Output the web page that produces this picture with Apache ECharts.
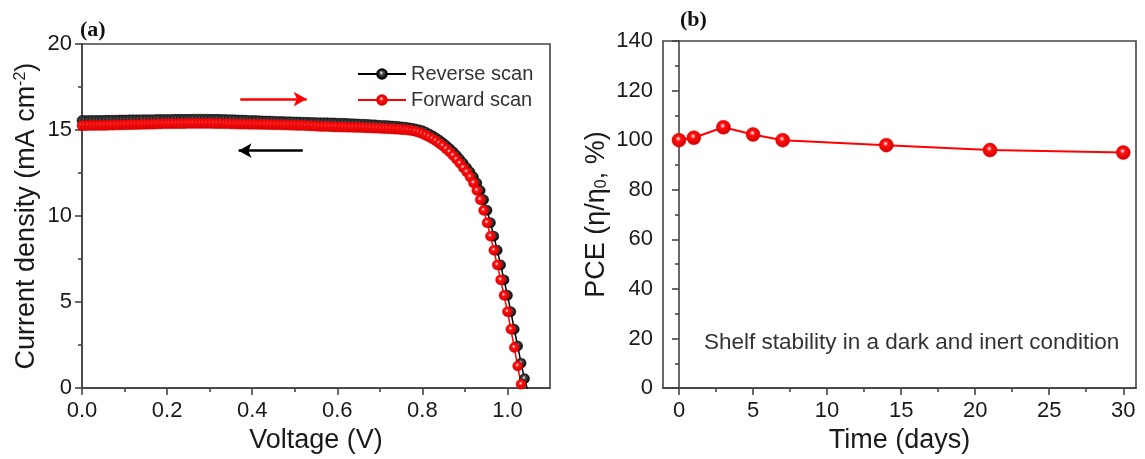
<!DOCTYPE html>
<html><head><meta charset="utf-8">
<script src="https://cdn.jsdelivr.net/npm/echarts@6/dist/echarts.min.js"></script>
<style>html,body{margin:0;padding:0;background:#fff}#c{width:1145px;height:459px}</style>
</head><body><div id="c"></div>
<script>
// ---- Panel (a): J-V data ----
const voltage = [
0,0.008,0.016,0.024,0.032,0.04,0.048,0.056,0.064,0.072,
0.08,0.088,0.096,0.104,0.112,0.12,0.128,0.136,0.144,0.152,
0.16,0.168,0.176,0.184,0.192,0.2,0.208,0.216,0.224,0.232,
0.24,0.248,0.256,0.264,0.272,0.28,0.288,0.296,0.304,0.312,
0.32,0.328,0.336,0.344,0.352,0.36,0.368,0.376,0.384,0.392,
0.4,0.408,0.416,0.424,0.432,0.44,0.448,0.456,0.464,0.472,
0.48,0.488,0.496,0.504,0.512,0.52,0.528,0.536,0.544,0.552,
0.56,0.568,0.576,0.584,0.592,0.6,0.608,0.616,0.624,0.632,
0.64,0.648,0.656,0.664,0.672,0.68,0.688,0.696,0.704,0.712,
0.72,0.728,0.736,0.744,0.752,0.76,0.768,0.776,0.784,0.792,
0.8,0.808,0.816,0.824,0.832,0.84,0.848,0.856,0.864,0.872,
0.88,0.888,0.896,0.904,0.912,0.92,0.928,0.936,0.944,0.952,
0.96,0.968,0.976,0.984,0.992,1.0,1.008,1.016,1.024,1.032,
1.04,1.048];
const reverseJ = [
15.55,15.55,15.55,15.56,15.56,15.56,15.56,15.57,15.57,15.57,
15.57,15.58,15.58,15.58,15.59,15.59,15.59,15.59,15.60,15.60,
15.60,15.60,15.61,15.61,15.61,15.61,15.61,15.62,15.62,15.62,
15.62,15.62,15.62,15.63,15.63,15.63,15.63,15.63,15.62,15.62,
15.62,15.61,15.61,15.60,15.60,15.59,15.58,15.58,15.57,15.56,
15.55,15.55,15.54,15.53,15.52,15.52,15.51,15.50,15.50,15.49,
15.48,15.48,15.47,15.47,15.46,15.45,15.45,15.44,15.44,15.43,
15.43,15.42,15.42,15.41,15.41,15.40,15.39,15.39,15.38,15.37,
15.36,15.35,15.34,15.33,15.32,15.31,15.30,15.28,15.27,15.26,
15.25,15.23,15.22,15.20,15.18,15.16,15.13,15.10,15.06,15.01,
14.96,14.87,14.77,14.66,14.54,14.41,14.26,14.10,13.92,13.74,
13.53,13.30,13.07,12.81,12.56,12.27,11.92,11.48,10.95,10.33,
9.61,8.83,8.01,7.16,6.29,5.39,4.44,3.42,2.45,1.45,
0.55,-0.15];
const forwardJ = [
15.25,15.25,15.26,15.26,15.26,15.27,15.27,15.27,15.28,15.28,
15.29,15.29,15.30,15.30,15.31,15.31,15.32,15.32,15.33,15.33,
15.34,15.34,15.35,15.35,15.36,15.36,15.36,15.37,15.37,15.37,
15.37,15.38,15.38,15.38,15.38,15.38,15.38,15.38,15.38,15.37,
15.37,15.37,15.36,15.36,15.35,15.35,15.34,15.34,15.34,15.33,
15.33,15.33,15.32,15.32,15.32,15.31,15.31,15.30,15.30,15.29,
15.29,15.28,15.28,15.27,15.27,15.26,15.25,15.24,15.23,15.22,
15.21,15.20,15.20,15.19,15.18,15.18,15.17,15.17,15.16,15.16,
15.15,15.15,15.14,15.13,15.12,15.12,15.11,15.10,15.09,15.08,
15.07,15.06,15.05,15.04,15.02,15.01,14.99,14.96,14.92,14.86,
14.78,14.69,14.59,14.48,14.36,14.22,14.07,13.90,13.72,13.52,
13.30,13.07,12.81,12.56,12.27,11.92,11.48,10.95,10.33,9.61,
8.83,8.01,7.16,6.29,5.39,4.44,3.42,2.36,1.28,0.22];
const voltageTicks = [0, 0.2, 0.4, 0.6, 0.8, 1.0];
const voltageMinorTicks = [0.1, 0.3, 0.5, 0.7, 0.9];
const forwardArrow = [[0.372, 16.8], [0.528, 16.8]];
const reverseArrow = [[0.519, 13.8], [0.368, 13.8]];

// ---- Panel (b): stability data ----
const days = [0, 1, 3, 5, 7, 14, 21, 30];
const pce = [100, 101, 105.2, 102.3, 100, 98, 96, 95];
const dayTicks = [0, 5, 10, 15, 20, 25, 30];
const dayMinorTicks = [2.5, 7.5, 12.5, 17.5, 22.5, 27.5];

const FONT = '"Liberation Sans", Arial, sans-serif';
const AX = '#444';
const TXT = '#1a1a1a';

function ball(mid, edge) {
  return new echarts.graphic.RadialGradient(0.45, 0.4, 0.6, [
    {offset: 0, color: '#ffffff'}, {offset: 0.3, color: mid}, {offset: 1, color: edge}]);
}
const axisLine = {lineStyle: {color: AX, width: 1.6}};
const tickStyle = {color: AX, width: 1.6};
const labelStyle = {fontSize: 22, color: TXT, fontFamily: FONT};
const nameStyle = {fontSize: 27, color: TXT, fontFamily: FONT};

function minorAxis(grid, min, max, vals, isX) {
  const a = {
    gridIndex: grid, type: 'value', min: min, max: max,
    axisLine: {show: false}, axisLabel: {show: false}, splitLine: {show: false},
    axisTick: {show: true, customValues: vals, length: 4, lineStyle: tickStyle}
  };
  a.position = isX ? 'bottom' : 'left';
  return a;
}

const chart = echarts.init(document.getElementById('c'), null, {renderer: 'canvas'});
chart.setOption({
  animation: false,
  backgroundColor: '#fff',
  grid: [
    {left: 82, top: 44, width: 468, height: 351, show: true, borderColor: AX, borderWidth: 1.6},
    {left: 663, top: 41, width: 473, height: 353, show: true, borderColor: AX, borderWidth: 1.6}
  ],
  legend: {
    data: ['Reverse scan', 'Forward scan'], orient: 'vertical', left: 352, top: 59,
    itemWidth: 48, itemHeight: 12, itemGap: 6,
    textStyle: {fontSize: 20, color: '#333', fontFamily: FONT}
  },
  xAxis: [
    {gridIndex: 0, type: 'value', min: 0, max: 1.1,
     name: 'Voltage (V)', nameLocation: 'middle', nameGap: 33, nameTextStyle: nameStyle,
     axisLine: axisLine, splitLine: {show: false},
     axisTick: {customValues: voltageTicks, length: 7, lineStyle: tickStyle},
     axisLabel: Object.assign({customValues: voltageTicks, margin: 12, formatter: v => v.toFixed(1)}, labelStyle)},
    minorAxis(0, 0, 1.1, voltageMinorTicks, true),
    {gridIndex: 1, type: 'value', min: -1.08, max: 30.86,
     name: 'Time (days)', nameLocation: 'middle', nameGap: 33, nameTextStyle: nameStyle,
     axisLine: axisLine, splitLine: {show: false},
     axisTick: {customValues: dayTicks, length: 7, lineStyle: tickStyle},
     axisLabel: Object.assign({customValues: dayTicks, margin: 12}, labelStyle)},
    minorAxis(1, -1.08, 30.86, dayMinorTicks, true)
  ],
  yAxis: [
    {gridIndex: 0, type: 'value', min: 0, max: 20, interval: 5,
     name: 'Current density (mA cm{sup|-2})', nameLocation: 'middle', nameGap: 42, nameRotate: 90,
     nameTextStyle: Object.assign({rich: {sup: {fontSize: 16, verticalAlign: 'top', color: TXT, fontFamily: FONT}}}, nameStyle),
     axisLine: axisLine, splitLine: {show: false},
     axisTick: {length: 7, lineStyle: tickStyle},
     minorTick: {show: true, splitNumber: 2, length: 4, lineStyle: tickStyle},
     axisLabel: Object.assign({margin: 10}, labelStyle)},
    {gridIndex: 1, type: 'value', min: 0, max: 140, interval: 20,
     name: 'PCE (η/η{sub|0}, %)', nameLocation: 'middle', nameGap: 53, nameRotate: 90,
     nameTextStyle: Object.assign({rich: {sub: {fontSize: 16, verticalAlign: 'bottom', color: TXT, fontFamily: FONT}}}, nameStyle),
     axisLine: axisLine, splitLine: {show: false},
     axisTick: {length: 7, lineStyle: tickStyle},
     minorTick: {show: true, splitNumber: 2, length: 4, lineStyle: tickStyle},
     axisLabel: Object.assign({margin: 10}, labelStyle)}
  ],
  series: [
    {name: 'Reverse scan', type: 'line', xAxisIndex: 0, yAxisIndex: 0,
     data: voltage.map((v, i) => [v, reverseJ[i]]),
     symbol: 'circle', symbolSize: 10, showSymbol: true,
     lineStyle: {color: '#000', width: 1.5},
     itemStyle: {color: ball('#444', '#000'), borderColor: '#000', borderWidth: 0.5},
     markLine: {silent: true, symbol: ['none', 'arrow'], symbolSize: [11, 13], label: {show: false},
       lineStyle: {color: '#000', width: 2.6, type: 'solid'},
       data: [[{coord: reverseArrow[0]}, {coord: reverseArrow[1]}]]}},
    {name: 'Forward scan', type: 'line', xAxisIndex: 0, yAxisIndex: 0,
     data: forwardJ.map((j, i) => [voltage[i], j]),
     symbol: 'circle', symbolSize: 10, showSymbol: true,
     lineStyle: {color: '#ff0000', width: 1.5},
     itemStyle: {color: ball('#ff1010', '#d00000'), borderColor: '#e00000', borderWidth: 0.5},
     markLine: {silent: true, symbol: ['none', 'arrow'], symbolSize: [11, 13], label: {show: false},
       lineStyle: {color: '#ff0000', width: 2.6, type: 'solid'},
       data: [[{coord: forwardArrow[0]}, {coord: forwardArrow[1]}]]}},
    {name: 'PCE', type: 'line', xAxisIndex: 2, yAxisIndex: 1,
     data: days.map((d, i) => [d, pce[i]]),
     symbol: 'circle', symbolSize: 14,
     lineStyle: {color: '#ff0000', width: 2},
     itemStyle: {color: ball('#ff1010', '#d00000'), borderColor: '#e00000', borderWidth: 0.5}}
  ],
  graphic: [
    {type: 'text', left: 80, top: 19, style: {text: '(a)', font: 'bold 22px "Liberation Serif", "Times New Roman", serif', fill: '#111'}},
    {type: 'text', left: 680, top: 9, style: {text: '(b)', font: 'bold 22px "Liberation Serif", "Times New Roman", serif', fill: '#111'}},
    {type: 'text', left: 704, top: 331, style: {text: 'Shelf stability in a dark and inert condition', font: '22.5px "Liberation Sans", Arial, sans-serif', fill: '#333'}}
  ]
});
</script></body></html>
